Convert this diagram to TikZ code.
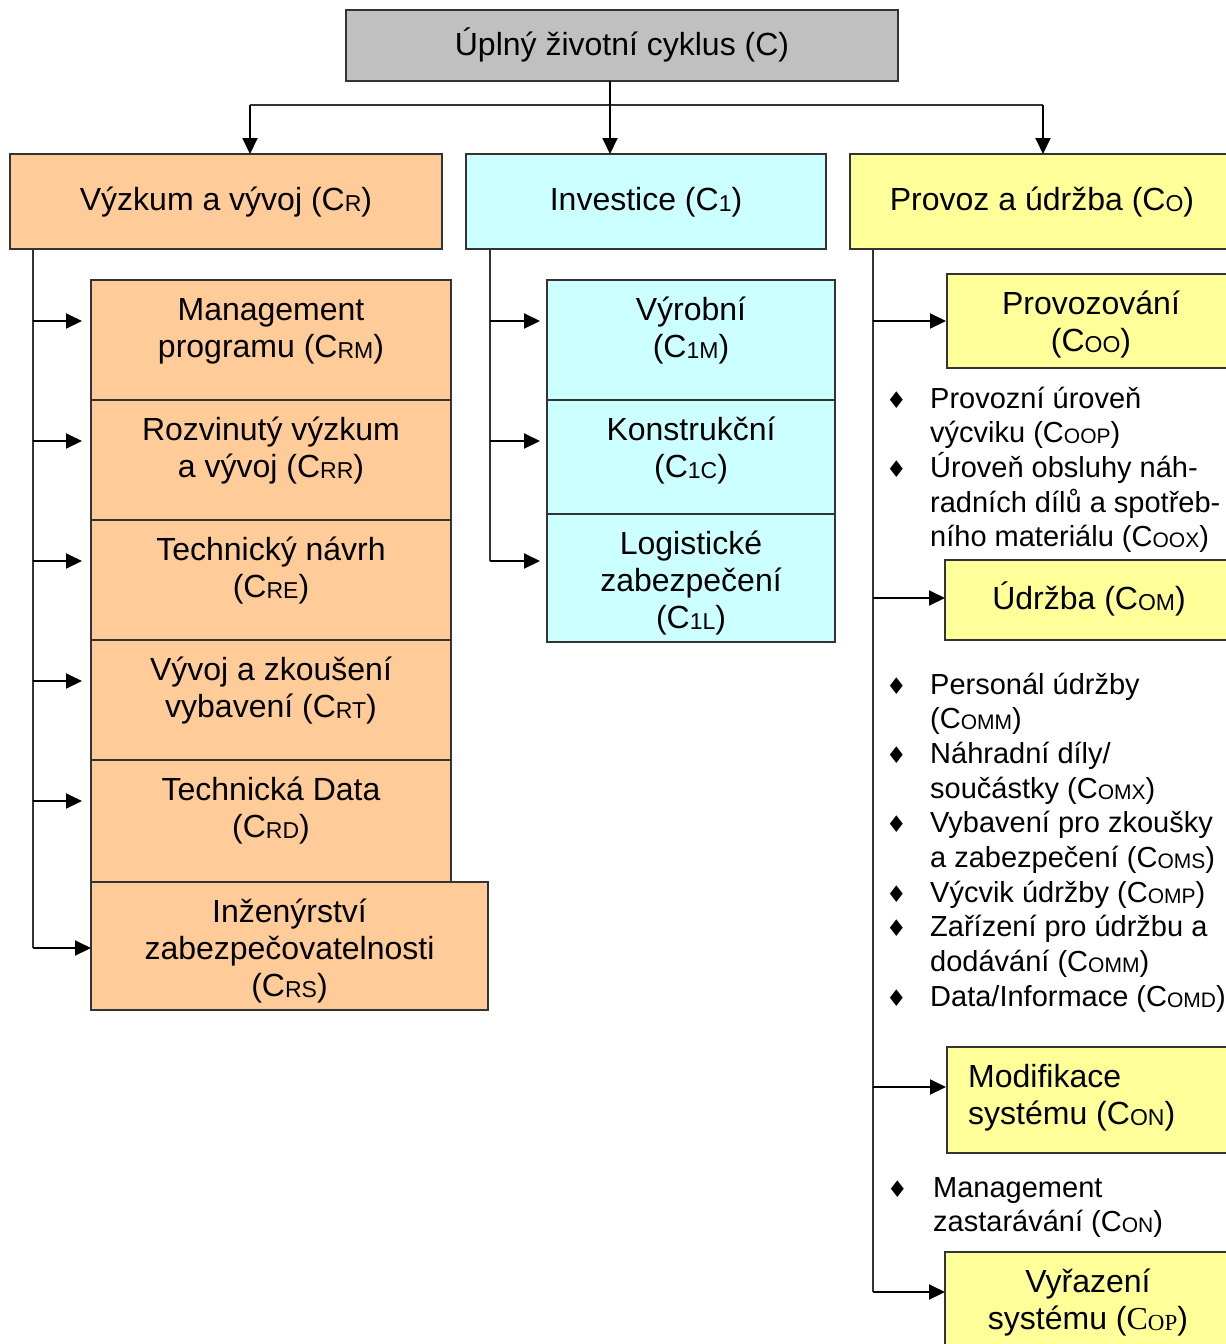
\documentclass[tikz,border=0pt]{standalone}
\usepackage{fontspec}
\setmainfont{Liberation Sans}
\newfontfamily\timesfam{Liberation Serif}
\newfontfamily\symfam{DejaVu Sans}
\usetikzlibrary{arrows.meta,calc}

\definecolor{cgray}{HTML}{C0C0C0}
\definecolor{corange}{HTML}{FFCC99}
\definecolor{ccyan}{HTML}{CCFFFF}
\definecolor{cyellow}{HTML}{FFFF99}

% text sizes
\newcommand\boxfont{\fontsize{32}{37}\selectfont}
\newcommand\listfont{\fontsize{29}{34.7}\selectfont}
% small index letters after C
\newcommand\bsub[1]{\raisebox{-1pt}{\fontsize{23}{23}\selectfont #1}}
\newcommand\lsub[1]{\raisebox{-1pt}{\fontsize{21}{21}\selectfont #1}}
\newcommand\bul{{\symfam\fontsize{23}{23}\selectfont ♦}}
\newcommand\ml[1]{\parbox[t]{420pt}{\centering #1}}

\begin{document}
\begin{tikzpicture}[x=1pt,y=-1pt,
  cell/.style={draw=black!80, line width=1.2pt, inner sep=0pt, outer sep=0pt, anchor=north west},
  lbl/.style={inner sep=0pt, anchor=base, font=\boxfont},
  item/.style={inner sep=0pt, anchor=base west, font=\listfont},
  trunk/.style={line width=1.4pt, draw=black!80},
  arr/.style={line width=2pt, draw=black, -{Triangle[length=16pt,width=15pt]}}]

\useasboundingbox (0,0) rectangle (1226,1344);

% ---------- boxes ----------
\node[cell, fill=cgray, minimum width=552pt, minimum height=71pt] (top) at (346,10) {};

\node[cell, fill=corange, minimum width=432pt, minimum height=95pt] (rd) at (10,154) {};
\node[cell, fill=ccyan, minimum width=360pt, minimum height=95pt] (inv) at (466,154) {};
\node[cell, fill=cyellow, minimum width=384pt, minimum height=95pt] (op) at (850,154) {};

\node[cell, fill=corange, minimum width=360pt, minimum height=120pt] (rm) at (91,280) {};
\node[cell, fill=corange, minimum width=360pt, minimum height=120pt] (rr) at (91,400) {};
\node[cell, fill=corange, minimum width=360pt, minimum height=120pt] (re) at (91,520) {};
\node[cell, fill=corange, minimum width=360pt, minimum height=120pt] (rt) at (91,640) {};
\node[cell, fill=corange, minimum width=360pt, minimum height=122pt] (rdt) at (91,760) {};
\node[cell, fill=corange, minimum width=397pt, minimum height=128pt] (rs) at (91,882) {};

\node[cell, fill=ccyan, minimum width=288pt, minimum height=120pt] (im) at (547,280) {};
\node[cell, fill=ccyan, minimum width=288pt, minimum height=114pt] (ic) at (547,400) {};
\node[cell, fill=ccyan, minimum width=288pt, minimum height=128pt] (il) at (547,514) {};

\node[cell, fill=cyellow, minimum width=287pt, minimum height=94pt] (poo) at (947,274) {};
\node[cell, fill=cyellow, minimum width=289pt, minimum height=80pt] (pom) at (945,560) {};
\node[cell, fill=cyellow, minimum width=287pt, minimum height=106pt] (pon) at (947,1047) {};
\node[cell, fill=cyellow, minimum width=286pt, minimum height=120pt] (pop) at (945,1252) {};

% ---------- connectors ----------
\coordinate (jl) at (250,105);
\coordinate (jm) at (610,105);
\coordinate (jr) at (1043,105);
\draw[trunk] (jl) -- (jr);
\draw[arr] (top.south -| jm) -- (inv.north -| jm);
\draw[arr] (jl) -- (jl |- rd.north);
\draw[arr] (jr) -- (jr |- op.north);

\coordinate (tl) at (33,0);
\coordinate (tm) at (490,0);
\coordinate (tr) at (873,0);

\foreach \b/\dy in {rm/41, rr/41, re/41, rt/41, rdt/41, rs/66,
                    im/41, ic/41, il/47,
                    poo/47, pom/38, pon/40, pop/40}
  \path (\b.north west) ++(0,\dy) coordinate (\b-in);

\draw[trunk] (tl |- rd.south) -- (tl |- rs-in);
\draw[trunk] (tm |- inv.south) -- (tm |- il-in);
\draw[trunk] (tr |- op.south) -- (tr |- pop-in);

\foreach \b/\gap in {rm/9pt, rr/9pt, re/9pt, rt/9pt, rdt/9pt, rs/0pt}
  \draw[arr, shorten >=\gap] (tl |- \b-in) -- (\b-in);
\foreach \b in {im, ic, il}
  \draw[arr, shorten >=7pt] (tm |- \b-in) -- (\b-in);
\foreach \b/\gap in {poo/1pt, pom/0pt, pon/1pt, pop/0pt}
  \draw[arr, shorten >=\gap] (tr |- \b-in) -- (\b-in);

% ---------- box texts ----------
\node[lbl] (t-top) at (622,55) {Úplný životní cyklus (C)};
\node[lbl] (t-rd) at (226,210) {Výzkum a vývoj (C\bsub{R})};
\node[lbl] (t-inv) at (646,210) {Investice (C\bsub{1})};
\node[lbl] (t-op) at (1042,210) {Provoz a údržba (C\bsub{O})};

\node[lbl] (t-rm) at (271,320) {\ml{Management\\programu (C\bsub{RM})}};
\node[lbl] (t-rr) at (271,440) {\ml{Rozvinutý výzkum\\a vývoj (C\bsub{RR})}};
\node[lbl] (t-re) at (271,560) {\ml{Technický návrh\\(C\bsub{RE})}};
\node[lbl] (t-rt) at (271,680) {\ml{Vývoj a zkoušení\\vybavení (C\bsub{RT})}};
\node[lbl] (t-rdt) at (271,800) {\ml{Technická Data\\(C\bsub{RD})}};
\node[lbl] (t-rs) at (289.5,922) {\ml{Inženýrství\\zabezpečovatelnosti\\(C\bsub{RS})}};

\node[lbl] (t-im) at (691,320) {\ml{Výrobní\\(C\bsub{1M})}};
\node[lbl] (t-ic) at (691,440) {\ml{Konstrukční\\(C\bsub{1C})}};
\node[lbl] (t-il) at (691,554) {\ml{Logistické\\zabezpečení\\(C\bsub{1L})}};

\node[lbl] (t-poo) at (1091,314) {\ml{Provozování\\(C\bsub{OO})}};
\node[lbl] (t-pom) at (1089,609) {Údržba (C\bsub{OM})};
\node[lbl, anchor=base west] (t-pon) at (968,1087) {\parbox[t]{260pt}{\raggedright Modifikace\\systému (C\bsub{ON})}};
\node[lbl] (t-pop) at (1088,1292) {\ml{Vyřazení\\systému ({\timesfam C\bsub{OP}})}};

% ---------- bullet lists ----------
\node[item] (b1) at (886,408) {\makebox[44pt][l]{\bul}\parbox[t]{300pt}{\raggedright Provozní úroveň\\výcviku (C\lsub{OOP})}};
\node[item] (b2) at (886,477.4) {\makebox[44pt][l]{\bul}\parbox[t]{300pt}{\raggedright Úroveň obsluhy náh-\\radních dílů a spotřeb-\\ního materiálu (C\lsub{OOX})}};

\node[item] (b3) at (886,694) {\makebox[44pt][l]{\bul}\parbox[t]{300pt}{\raggedright Personál údržby\\(C\lsub{OMM})}};
\node[item] (b4) at (886,763.4) {\makebox[44pt][l]{\bul}\parbox[t]{300pt}{\raggedright Náhradní díly/\\součástky (C\lsub{OMX})}};
\node[item] (b5) at (886,832.8) {\makebox[44pt][l]{\bul}\parbox[t]{300pt}{\raggedright Vybavení pro zkoušky\\a zabezpečení (C\lsub{OMS})}};
\node[item] (b6) at (886,902.1) {\makebox[44pt][l]{\bul}\parbox[t]{300pt}{\raggedright Výcvik údržby (C\lsub{OMP})}};
\node[item] (b7) at (886,936.8) {\makebox[44pt][l]{\bul}\parbox[t]{300pt}{\raggedright Zařízení pro údržbu a\\dodávání (C\lsub{OMM})}};
\node[item] (b8) at (886,1006.2) {\makebox[44pt][l]{\bul}\parbox[t]{300pt}{\raggedright Data/Informace (C\lsub{OMD})}};

\node[item] (b9) at (887,1197) {\makebox[46pt][l]{\bul}\parbox[t]{300pt}{\raggedright Management\\zastarávání (C\lsub{ON})}};

\end{tikzpicture}
\end{document}
